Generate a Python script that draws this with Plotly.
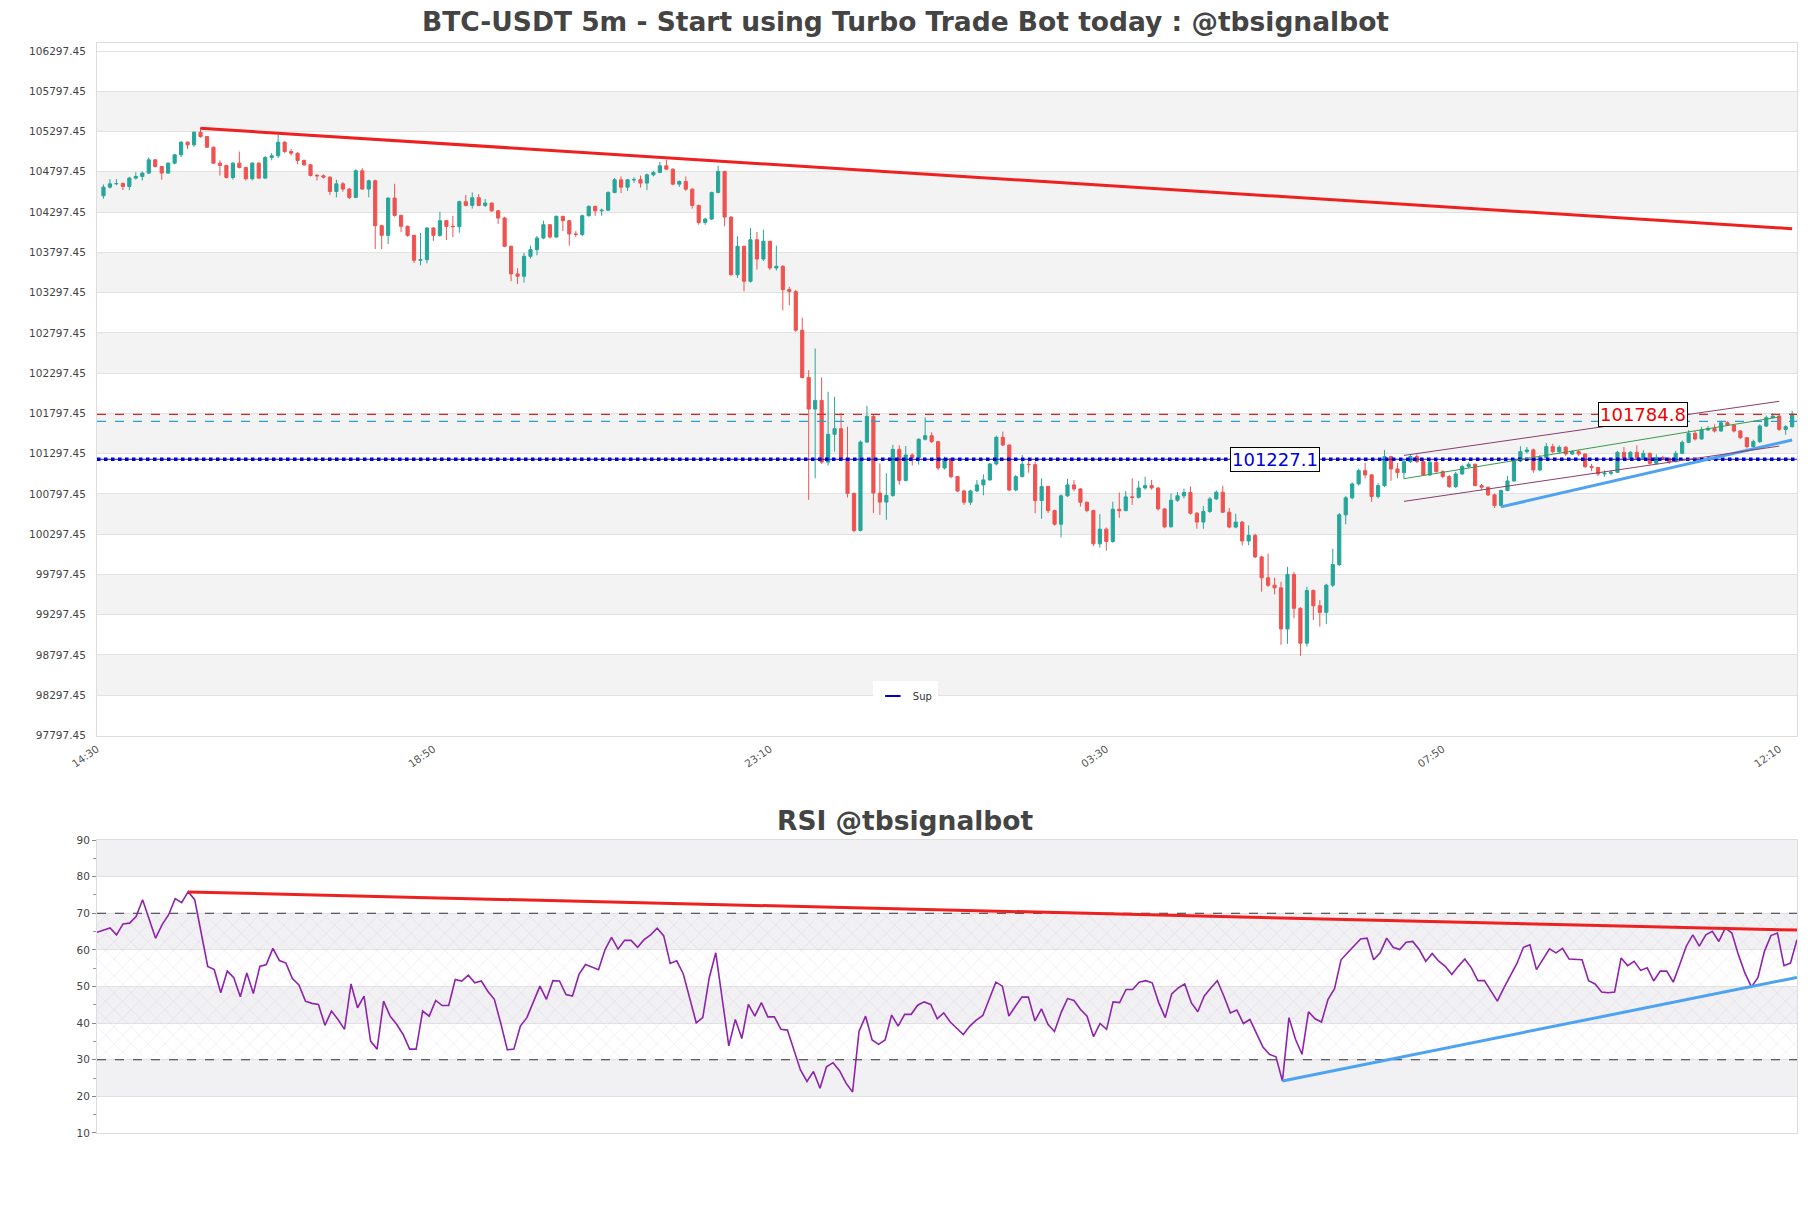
import pandas as pd
import plotly.graph_objects as go

# ---------------- data ----------------
first_candle = "2025-01-20 14:35"
n_candles = 262

open_ = [104500,104607,104648,104652,104615,104719,104740,104781,104946,104863,
         104781,104905,105008,105165,105132,105289,105235,105103,104905,104876,
         104727,104905,104851,104711,104905,104719,104975,104996,105165,105049,
         105028,104938,104884,104752,104748,104731,104553,104648,104583,104479,
         104810,104583,104686,104128,104008,104471,104256,104120,104008,103698,
         103706,104099,104008,104190,104120,104116,104426,104380,104475,104380,
         104409,104313,104223,103872,103529,103500,103748,103830,103975,104140,
         103987,104244,104190,104025,104020,104252,104368,104313,104320,104541,
         104698,104607,104698,104700,104657,104760,104789,104872,104830,104644,
         104677,104582,104380,104169,104210,104541,104802,104235,103520,103872,
         103438,103954,103714,103934,103603,103624,103335,103310,102830,102243,
         101851,101958,101192,101537,101607,101238,100803,100343,101441,101760,
         100807,100695,100778,101350,100965,101281,101248,101475,101520,101446,
         101119,101235,101012,100834,100694,100834,100909,100971,101169,101500,
         101404,100846,101012,101165,101160,100714,100888,100590,100421,100773,
         100909,100859,100694,100590,100177,100359,100206,100607,100590,100760,
         100755,100871,100900,100871,100611,100388,100718,100773,100814,100558,
         100447,100579,100735,100818,100570,100385,100447,100212,100282,100014,
         99755,99663,99630,99120,99796,99376,98943,99598,99408,99326,
         99664,99919,100537,100748,100921,101086,101033,100764,100900,101260,
         101107,101062,101198,101260,101198,101033,101190,101074,101012,100888,
         101045,101136,101165,100900,100880,100785,100652,100838,100958,101206,
         101322,101343,101095,101248,101384,101322,101376,101293,101322,101293,
         101136,101124,101045,101053,101066,101313,101239,101313,101239,101301,
         101177,101248,101240,101198,101301,101437,101549,101479,101590,101611,
         101578,101681,101652,101578,101495,101384,101446,101640,101743,101764,
         101598,101632]

high = [104640,104706,104706,104665,104735,104790,104800,104975,104955,104870,
        104915,105020,105180,105175,105300,105347,105240,105110,104940,104885,
        104915,105049,104860,104915,104915,104995,105030,105255,105180,105080,
        105040,104950,104895,104770,104765,104740,104700,104670,104595,104830,
        104843,104700,104700,104140,104480,104648,104265,104130,104015,104037,
        104110,104110,104301,104200,104250,104440,104510,104541,104520,104460,
        104415,104325,104240,103880,103600,103790,103880,104000,104190,104150,
        104255,104250,104200,104060,104265,104380,104375,104340,104555,104720,
        104740,104710,104730,104750,104775,104810,104920,104946,104840,104690,
        104740,104590,104390,104225,104550,104872,104810,104245,103996,103880,
        104099,104050,104078,103940,103880,103640,103370,103330,102987,102334,
        102603,102243,102066,102004,101797,101632,100815,101460,101892,101785,
        101177,101053,101405,101400,101392,101300,101490,101748,101562,101455,
        101260,101245,101020,100845,100850,100970,101040,101180,101520,101570,
        101410,101030,101280,101220,101200,100991,100900,100600,100790,100985,
        100970,100870,100700,100600,100545,100380,100700,100814,100830,100991,
        100960,101010,100970,100880,100620,100800,100820,100860,100892,100570,
        100645,100760,100840,100900,100620,100550,100460,100406,100303,100030,
        100055,99755,99705,99891,99829,99390,99643,99610,99478,99680,
        100117,100560,100770,100940,101110,101180,101045,100930,101342,101270,
        101180,101220,101290,101290,101240,101220,101240,101090,101030,101070,
        101160,101190,101175,100920,100890,100800,100850,101020,101230,101390,
        101380,101360,101280,101430,101420,101400,101390,101340,101340,101300,
        101170,101130,101090,101090,101330,101380,101330,101400,101340,101310,
        101290,101270,101250,101330,101460,101590,101580,101630,101640,101660,
        101700,101700,101660,101590,101500,101470,101660,101770,101800,101780,
        101650,101830]

low = [104463,104590,104630,104570,104570,104700,104690,104770,104850,104700,
       104770,104890,104980,105080,105110,105220,105095,104895,104750,104715,
       104700,104840,104690,104690,104710,104710,104940,104970,105030,105000,
       104890,104870,104740,104690,104715,104510,104480,104550,104460,104470,
       104575,104480,103839,103839,103900,104240,104050,103990,103665,103636,
       103660,103940,103990,103950,103985,104040,104370,104340,104370,104360,
       104300,104150,103860,103438,103405,103420,103720,103760,103960,103970,
       103980,104060,103880,103990,104000,104240,104250,104250,104310,104530,
       104533,104560,104660,104600,104570,104740,104780,104820,104630,104610,
       104560,104340,104140,104140,104200,104530,104120,103505,103480,103313,
       103420,103583,103690,103580,103570,103078,103140,102810,102230,100723,
       100991,101170,101150,101322,101220,100752,100320,100330,101430,100560,
       100537,100475,100760,100910,100950,101150,101160,101460,101430,101095,
       101100,100990,100820,100661,100660,100820,100780,100960,101150,101390,
       100830,100830,101000,101060,100557,100487,100560,100404,100256,100760,
       100830,100640,100570,100150,100130,100091,100190,100500,100580,100660,
       100740,100850,100850,100590,100370,100380,100700,100740,100540,100364,
       100364,100560,100720,100560,100370,100370,100158,100160,100000,99582,
       99640,99549,98922,98935,99252,98786,98902,99231,99149,99180,
       99640,99900,100420,100730,100900,100990,100700,100740,100880,100960,
       100990,100980,101180,101180,101020,101020,101060,100990,100870,100870,
       101030,101120,100890,100840,100770,100620,100640,100830,100950,101190,
       101300,101060,101080,101240,101300,101300,101270,101280,101270,101120,
       101080,101020,101010,101030,101060,101230,101220,101230,101230,101160,
       101160,101220,101170,101190,101290,101430,101460,101470,101580,101560,
       101570,101640,101560,101480,101360,101370,101430,101630,101740,101580,
       101530,101620]

close = [104607,104648,104652,104615,104719,104740,104781,104946,104863,104781,
         104905,105008,105165,105132,105289,105235,105103,104905,104876,104727,
         104905,104851,104711,104905,104719,104975,104996,105165,105049,105028,
         104938,104884,104752,104748,104731,104553,104648,104583,104479,104810,
         104583,104686,104128,104008,104471,104256,104120,104008,103698,103706,
         104099,104008,104190,104120,104116,104426,104380,104475,104380,104409,
         104313,104223,103872,103529,103500,103748,103830,103975,104140,103987,
         104244,104190,104025,104020,104252,104368,104313,104320,104541,104698,
         104607,104698,104700,104657,104760,104789,104872,104830,104644,104677,
         104582,104380,104169,104210,104541,104802,104235,103520,103872,103438,
         103954,103714,103934,103603,103624,103335,103310,102830,102243,101851,
         101958,101192,101537,101607,101238,100803,100343,101441,101760,100807,
         100695,100778,101350,100965,101281,101248,101475,101520,101446,101119,
         101235,101012,100834,100694,100834,100909,100971,101169,101500,101404,
         100846,101012,101165,101160,100714,100888,100590,100421,100773,100909,
         100859,100694,100590,100177,100359,100206,100607,100590,100760,100755,
         100871,100900,100871,100611,100388,100718,100773,100814,100558,100447,
         100579,100735,100818,100570,100385,100447,100212,100282,100014,99755,
         99663,99630,99120,99796,99376,98943,99598,99408,99326,99664,
         99919,100537,100748,100921,101086,101033,100764,100900,101260,101107,
         101062,101198,101260,101198,101033,101190,101074,101012,100888,101045,
         101136,101165,100900,100880,100785,100652,100838,100958,101206,101322,
         101343,101095,101248,101384,101322,101376,101293,101322,101293,101136,
         101124,101045,101053,101066,101313,101239,101313,101239,101301,101177,
         101248,101240,101198,101301,101437,101549,101479,101590,101611,101578,
         101681,101652,101578,101495,101384,101446,101640,101743,101764,101598,
         101632,101790]

rsi = [64.8,65.3,66.0,64.1,67.1,67.3,69.1,73.7,68.2,63.2,
       66.9,69.6,74.0,72.9,75.9,73.7,64.6,55.5,54.6,48.3,
       54.2,52.4,47.2,53.7,48.1,55.5,56.0,60.4,57.1,56.4,
       52.2,50.4,46.0,45.4,45.1,39.4,43.3,41.0,38.3,50.7,
       44.2,47.4,35.1,32.9,46.0,41.9,39.7,36.9,32.9,32.9,
       43.3,41.9,46.2,44.8,44.8,51.9,51.5,53.1,51.0,51.5,
       48.7,46.5,39.9,32.7,32.9,39.2,41.5,45.6,50.1,46.5,
       51.6,51.5,47.8,47.4,53.3,56.0,55.4,54.6,60.1,63.4,
       60.2,62.6,62.6,60.7,62.8,64.1,65.9,63.9,56.3,57.0,
       53.5,46.5,40.1,41.5,52.4,59.2,46.0,33.8,41.0,35.8,
       45.1,41.9,45.6,41.7,41.7,38.3,38.1,32.4,27.2,24.1,
       26.8,22.2,28.1,29.2,27.0,23.6,21.2,37.8,41.9,35.4,
       34.2,35.4,42.2,39.2,
       42.4,42.4,44.9,45.8,45.1,41.2,42.8,40.3,38.5,36.9,
       39.2,40.8,42.1,46.5,51.2,50.1,41.9,44.6,47.1,47.1,
       40.6,43.9,39.7,37.7,42.8,46.7,46.2,43.7,41.9,36.3,
       39.9,38.3,45.8,45.6,49.2,49.2,51.2,51.6,51.0,45.6,
       41.5,48.0,49.6,50.7,45.6,43.1,47.4,49.6,51.6,47.4,
       42.8,43.6,39.9,41.0,37.2,33.5,31.5,30.8,24.2,41.5,
       35.6,31.5,43.1,41.2,40.3,46.5,49.4,57.3,59.2,61.0,
       63.0,63.2,57.3,59.2,63.2,60.7,60.1,62.1,62.3,60.1,
       56.9,59.0,56.9,55.5,53.3,55.5,57.5,55.1,51.6,51.6,
       48.7,46.0,49.6,52.8,56.3,60.7,61.4,54.6,57.3,60.3,
       59.2,60.4,57.5,57.5,57.3,51.6,50.7,48.5,48.3,48.5,
       57.8,55.7,56.9,54.4,55.1,51.5,54.2,54.2,51.2,56.0,
       61.0,64.1,61.0,64.1,65.1,62.3,66.0,64.6,58.7,53.7,
       49.9,52.4,59.6,63.9,64.6,55.7,56.4,62.8]

# horizontal levels
resistance_level = 101784.8
support_level = 101227.1
mid_level = 101698

# trendlines (candle index, value)
price_res_idx = [15, 261]
price_res_val = [105337, 104090]
price_sup_idx = [216, 261]
price_sup_val = [100636, 101467]
chan_up_idx = [201, 259]
chan_up_val = [101275, 101947]
chan_mid_idx = [201, 259]
chan_mid_val = [100986, 101752]
chan_lo_idx = [201, 259]
chan_lo_val = [100704, 101391]
rsi_res_idx = [14, 261]
rsi_res_val = [75.8, 65.4]
rsi_sup_idx = [182, 261]
rsi_sup_val = [24.2, 52.5]

x_tick_labels = ["14:30", "18:50", "23:10", "03:30", "07:50", "12:10"]

# ---------------- figure ----------------
times = pd.date_range(first_candle, periods=n_candles, freq="5min")
step = pd.Timedelta(minutes=5)
x_start = times[0] - step
x_end = times[-1] + 0.75 * step

GREEN = "#26a69a"
RED = "#ef5350"

fig = go.Figure()

fig.add_trace(go.Candlestick(
    x=times, open=open_, high=high, low=low, close=close,
    increasing=dict(line=dict(color=GREEN, width=1), fillcolor=GREEN),
    decreasing=dict(line=dict(color=RED, width=1), fillcolor=RED),
    whiskerwidth=0, showlegend=False, hoverinfo="skip",
    xaxis="x", yaxis="y"))

def hline(level, color, dash, width):
    fig.add_trace(go.Scatter(
        x=[x_start, x_end], y=[level, level], mode="lines",
        line=dict(color=color, dash=dash, width=width),
        showlegend=False, hoverinfo="skip",
        xaxis="x", yaxis="y"))

hline(resistance_level, "#d62728", "dash", 1.2)
hline(mid_level, "#2a9fd6", "dash", 1.2)
hline(support_level, "#1a1aa0", "solid", 1)
hline(support_level, "#0000dd", "dot", 3.5)

# legend entry for the support line
fig.add_trace(go.Scatter(
    x=[None], y=[None], mode="markers", name="Sup",
    marker=dict(symbol="line-ew-open", size=11, color="#0000cc",
                line=dict(width=2, color="#0000cc")),
    showlegend=True, xaxis="x", yaxis="y"))

def seg(idx, vals, color, width, ax="x", ay="y"):
    fig.add_trace(go.Scatter(
        x=[times[k] for k in idx], y=vals, mode="lines",
        line=dict(color=color, width=width), showlegend=False,
        hoverinfo="skip", xaxis=ax, yaxis=ay))

seg(price_res_idx, price_res_val, "#ee2020", 3)
seg(price_sup_idx, price_sup_val, "#4da3f2", 3)
seg(chan_up_idx, chan_up_val, "#8a3d6b", 1)
seg(chan_mid_idx, chan_mid_val, "#3a9a4a", 1)
seg(chan_lo_idx, chan_lo_val, "#8a3d6b", 1)

# RSI panel
fig.add_trace(go.Scatter(
    x=[times[0], times[-1], times[-1], times[0], times[0]],
    y=[30, 30, 70, 70, 30], mode="lines", fill="toself",
    fillcolor="rgba(0,0,0,0)",
    fillpattern=dict(shape="x", fgcolor="rgba(165,120,200,0.55)",
                     bgcolor="rgba(0,0,0,0)", size=12, solidity=0.07),
    line=dict(width=0), showlegend=False, hoverinfo="skip",
    xaxis="x2", yaxis="y2"))
for lvl in (70, 30):
    fig.add_trace(go.Scatter(
        x=[times[0], times[-1]], y=[lvl, lvl], mode="lines",
        line=dict(color="#333333", dash="dash", width=1.2),
        showlegend=False, hoverinfo="skip", xaxis="x2", yaxis="y2"))
fig.add_trace(go.Scatter(
    x=times, y=rsi, mode="lines", line=dict(color="#8e24aa", width=1.6),
    showlegend=False, hoverinfo="skip", xaxis="x2", yaxis="y2"))
seg(rsi_res_idx, rsi_res_val, "#ee2020", 3, "x2", "y2")
seg(rsi_sup_idx, rsi_sup_val, "#4da3f2", 3, "x2", "y2")

# bands
shapes = []
y_lo = 97797.45
for k in range(1, 17, 2):
    shapes.append(dict(type="rect", xref="x domain", yref="y", x0=0, x1=1,
                       y0=y_lo + 500 * k, y1=y_lo + 500 * (k + 1),
                       fillcolor="#f3f3f3", line=dict(width=0), layer="below"))
for b in (20, 40, 60, 80):
    shapes.append(dict(type="rect", xref="x2 domain", yref="y2", x0=0, x1=1,
                       y0=b, y1=b + 10, fillcolor="#f1f1f3",
                       line=dict(width=0), layer="below"))

annotations = [
    dict(x=times[181], y=support_level, xref="x", yref="y",
         text=f"{support_level:.1f}", showarrow=False,
         font=dict(family="DejaVu Sans", size=18, color="#0000dd"),
         bgcolor="white", bordercolor="black", borderwidth=1, borderpad=1),
    dict(x=times[238], y=resistance_level, xref="x", yref="y",
         text=f"{resistance_level:.1f}", showarrow=False,
         font=dict(family="DejaVu Sans", size=18, color="#ee0000"),
         bgcolor="white", bordercolor="black", borderwidth=1, borderpad=1),
    dict(x=0.4756, y=0.287, xref="paper", yref="paper", xanchor="center",
         yanchor="middle", text="<b>RSI @tbsignalbot</b>", showarrow=False,
         font=dict(family="DejaVu Sans", size=26.5, color="#444444")),
]

tick_times = [pd.Timestamp("2025-01-20 14:30") + k * pd.Timedelta(minutes=260)
              for k in range(len(x_tick_labels))]

axis_font = dict(family="DejaVu Sans", size=10.5, color="#444444")

fig.update_layout(
    width=1811, height=1208,
    margin=dict(l=97, r=14, t=43, b=75),
    paper_bgcolor="white", plot_bgcolor="white",
    title=dict(text="<b>BTC-USDT 5m - Start using Turbo Trade Bot today : @tbsignalbot</b>",
               x=0.5, xref="container", y=1 - 22 / 1208, yanchor="middle",
               font=dict(family="DejaVu Sans", size=26.5, color="#444444")),
    xaxis=dict(domain=[0, 1], anchor="y", range=[x_start, x_end],
               rangeslider=dict(visible=False), showgrid=False,
               tickvals=tick_times, ticktext=x_tick_labels, tickangle=-35,
               tickfont=dict(family="DejaVu Sans", size=10.5, color="#555555"),
               ticklabelstandoff=2,
               showline=True, linecolor="#dddddd",
               mirror=True, zeroline=False),
    yaxis=dict(domain=[0.3642, 1], anchor="x", range=[97790, 106397],
               tickmode="linear", tick0=97797.45, dtick=500, tickformat=".2f",
               showgrid=True, gridcolor="#e2e2e2", gridwidth=1,
               tickfont=axis_font, ticklabelstandoff=8,
               showline=True, linecolor="#dddddd",
               mirror=True, zeroline=False, fixedrange=True),
    xaxis2=dict(domain=[0, 1], anchor="y2", range=[times[0], times[-1]],
                showticklabels=False, showgrid=False, showline=True,
                linecolor="#dddddd", mirror=True, zeroline=False),
    yaxis2=dict(domain=[0, 0.2688], anchor="x2", range=[10, 90],
                tickmode="linear", tick0=10, dtick=10, ticks="outside",
                ticklen=4, tickcolor="#888888",
                minor=dict(ticks="outside", dtick=5, ticklen=3, tickcolor="#999999", showgrid=False),
                showgrid=True, gridcolor="#e2e2e2", tickfont=axis_font,
                showline=True, linecolor="#dddddd", mirror=True, zeroline=False),
    shapes=shapes, annotations=annotations,
    showlegend=True,
    legend=dict(x=0.4755, y=0.401, xanchor="center", yanchor="middle",
                xref="paper", yref="paper", bgcolor="white",
                font=dict(family="DejaVu Sans", size=10, color="#333333"),
                itemwidth=30, borderwidth=0),
    hovermode=False,
)

fig.write_html("out.html")
